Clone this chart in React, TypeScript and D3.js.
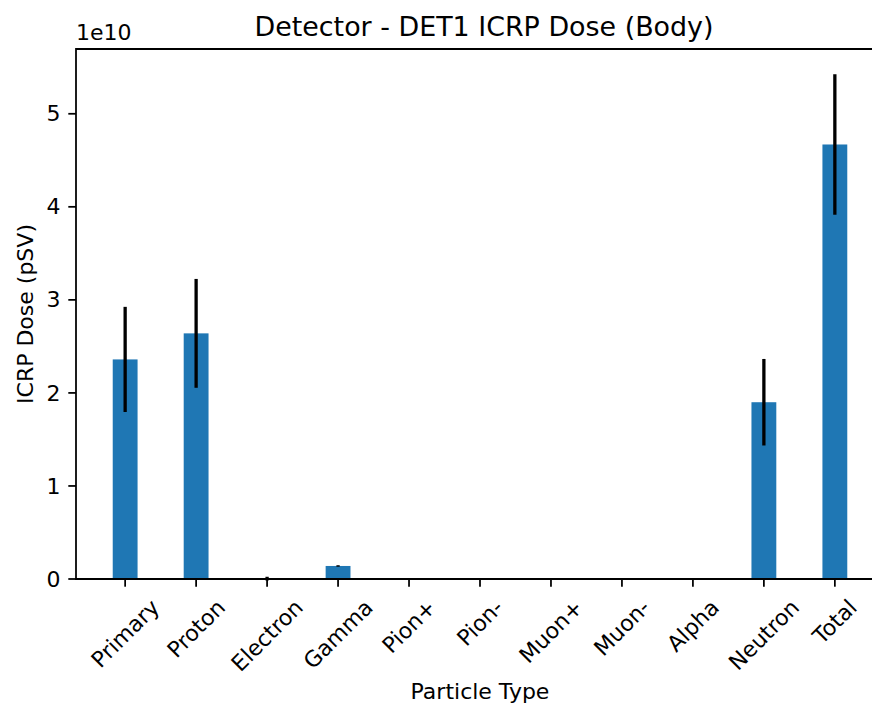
import React, { useEffect, useRef } from "react";
import * as d3 from "d3";

// Dose per particle type (values in units of 1e10 pSV)
const categories = ["Primary", "Proton", "Electron", "Gamma", "Pion+", "Pion-", "Muon+", "Muon-", "Alpha", "Neutron", "Total"];
const doseValues = [2.36, 2.64, 0.004, 0.14, 0, 0, 0, 0, 0, 1.9, 4.67];
const doseErrors = [0.565, 0.585, 0.02, 0.008, 0, 0, 0, 0, 0, 0.465, 0.755];
const yTicks = [0, 1, 2, 3, 4, 5];

const W = 872;
const H = 709;
const FONT = "'DejaVu Sans', sans-serif";
const pt = 2.2; // pixels per point

const margin = { left: 76, top: 49, right: 884, bottom: 579 };
const barWidth = 0.35;

export default function App() {
  const ref = useRef<SVGSVGElement>(null);

  useEffect(() => {
    const svg = d3.select(ref.current);
    svg.selectAll("*").remove();

    const n = categories.length;
    const pad = 0.05 * (n - 1 + barWidth);
    const x = d3
      .scaleLinear()
      .domain([-barWidth / 2 - pad, n - 1 + barWidth / 2 + pad])
      .range([margin.left, margin.right]);
    const maxTop = d3.max(doseValues.map((v, i) => v + doseErrors[i])) as number;
    const y = d3
      .scaleLinear()
      .domain([0, maxTop * 1.05])
      .range([margin.bottom, margin.top]);

    // Bars
    svg
      .append("g")
      .selectAll("rect")
      .data(doseValues)
      .join("rect")
      .attr("x", (_, i) => x(i - barWidth / 2))
      .attr("width", (_, i) => x(i + barWidth / 2) - x(i - barWidth / 2))
      .attr("y", (d) => y(d))
      .attr("height", (d) => y(0) - y(d))
      .attr("fill", "#1f77b4");

    // Error bars
    svg
      .append("g")
      .selectAll("line")
      .data(doseValues)
      .join("line")
      .attr("x1", (_, i) => x(i))
      .attr("x2", (_, i) => x(i))
      .attr("y1", (d, i) => y(d - doseErrors[i]))
      .attr("y2", (d, i) => y(d + doseErrors[i]))
      .attr("stroke", "#000")
      .attr("stroke-width", 1.5 * pt);

    // Spines (right spine sits past the canvas edge)
    const sp = svg.append("g").attr("stroke", "#000").attr("stroke-width", 0.8 * pt).attr("fill", "none");
    sp.append("path").attr(
      "d",
      `M${margin.left},${margin.bottom}V${margin.top}H${margin.right}V${margin.bottom}Z`
    ).attr("stroke-linecap", "square");

    const tickLen = 3.5 * pt;
    const tickPad = 3.5 * pt;
    const fs = 10 * pt;

    // Y ticks
    const yg = svg.append("g");
    yTicks.forEach((t) => {
      yg.append("line")
        .attr("x1", margin.left - tickLen)
        .attr("x2", margin.left)
        .attr("y1", y(t))
        .attr("y2", y(t))
        .attr("stroke", "#000")
        .attr("stroke-width", 0.8 * pt);
      yg.append("text")
        .attr("x", margin.left - tickLen - tickPad)
        .attr("y", y(t))
        .attr("dy", "0.346em")
        .attr("text-anchor", "end")
        .attr("font-family", FONT)
        .attr("font-size", fs)
        .attr("fill", "#000")
        .text(String(t));
    });

    // X ticks with 45° rotated labels, centred on the tick
    const xg = svg.append("g");
    const labelTop = margin.bottom + tickLen + tickPad;
    const textH = 1.164 * fs;
    categories.forEach((c, i) => {
      xg.append("line")
        .attr("x1", x(i))
        .attr("x2", x(i))
        .attr("y1", margin.bottom)
        .attr("y2", margin.bottom + tickLen)
        .attr("stroke", "#000")
        .attr("stroke-width", 0.8 * pt);
      const t = xg
        .append("text")
        .attr("text-anchor", "middle")
        .attr("font-family", FONT)
        .attr("font-size", fs)
        .attr("fill", "#000")
        .attr("dy", "0.346em")
        .text(c);
      const L = (t.node() as SVGTextElement).getComputedTextLength();
      const half = (L + textH) / (2 * Math.SQRT2);
      const cy = labelTop + half;
      t.attr("transform", `translate(${x(i)},${cy}) rotate(-45)`);
    });

    // Axis labels
    svg
      .append("text")
      .attr("x", (margin.left + margin.right) / 2)
      .attr("y", 699)
      .attr("text-anchor", "middle")
      .attr("font-family", FONT)
      .attr("font-size", fs)
      .attr("fill", "#000")
      .text("Particle Type");

    svg
      .append("text")
      .attr("transform", `translate(32.6,${(margin.top + margin.bottom) / 2}) rotate(-90)`)
      .attr("text-anchor", "middle")
      .attr("font-family", FONT)
      .attr("font-size", fs)
      .attr("fill", "#000")
      .text("ICRP Dose (pSV)");

    // Scale factor above the y axis
    svg
      .append("text")
      .attr("x", margin.left)
      .attr("y", 40)
      .attr("font-family", FONT)
      .attr("font-size", fs)
      .attr("fill", "#000")
      .text("1e10");

    // Title
    svg
      .append("text")
      .attr("x", 484)
      .attr("y", margin.top - 6 * pt)
      .attr("text-anchor", "middle")
      .attr("font-family", FONT)
      .attr("font-size", 26.9)
      .attr("fill", "#000")
      .text("Detector - DET1 ICRP Dose (Body)");
  }, []);

  return (
    <div style={{ position: "fixed", left: 0, top: 0 }}>
      <svg ref={ref} width={W} height={H} style={{ display: "block", background: "#fff" }} />
    </div>
  );
}
